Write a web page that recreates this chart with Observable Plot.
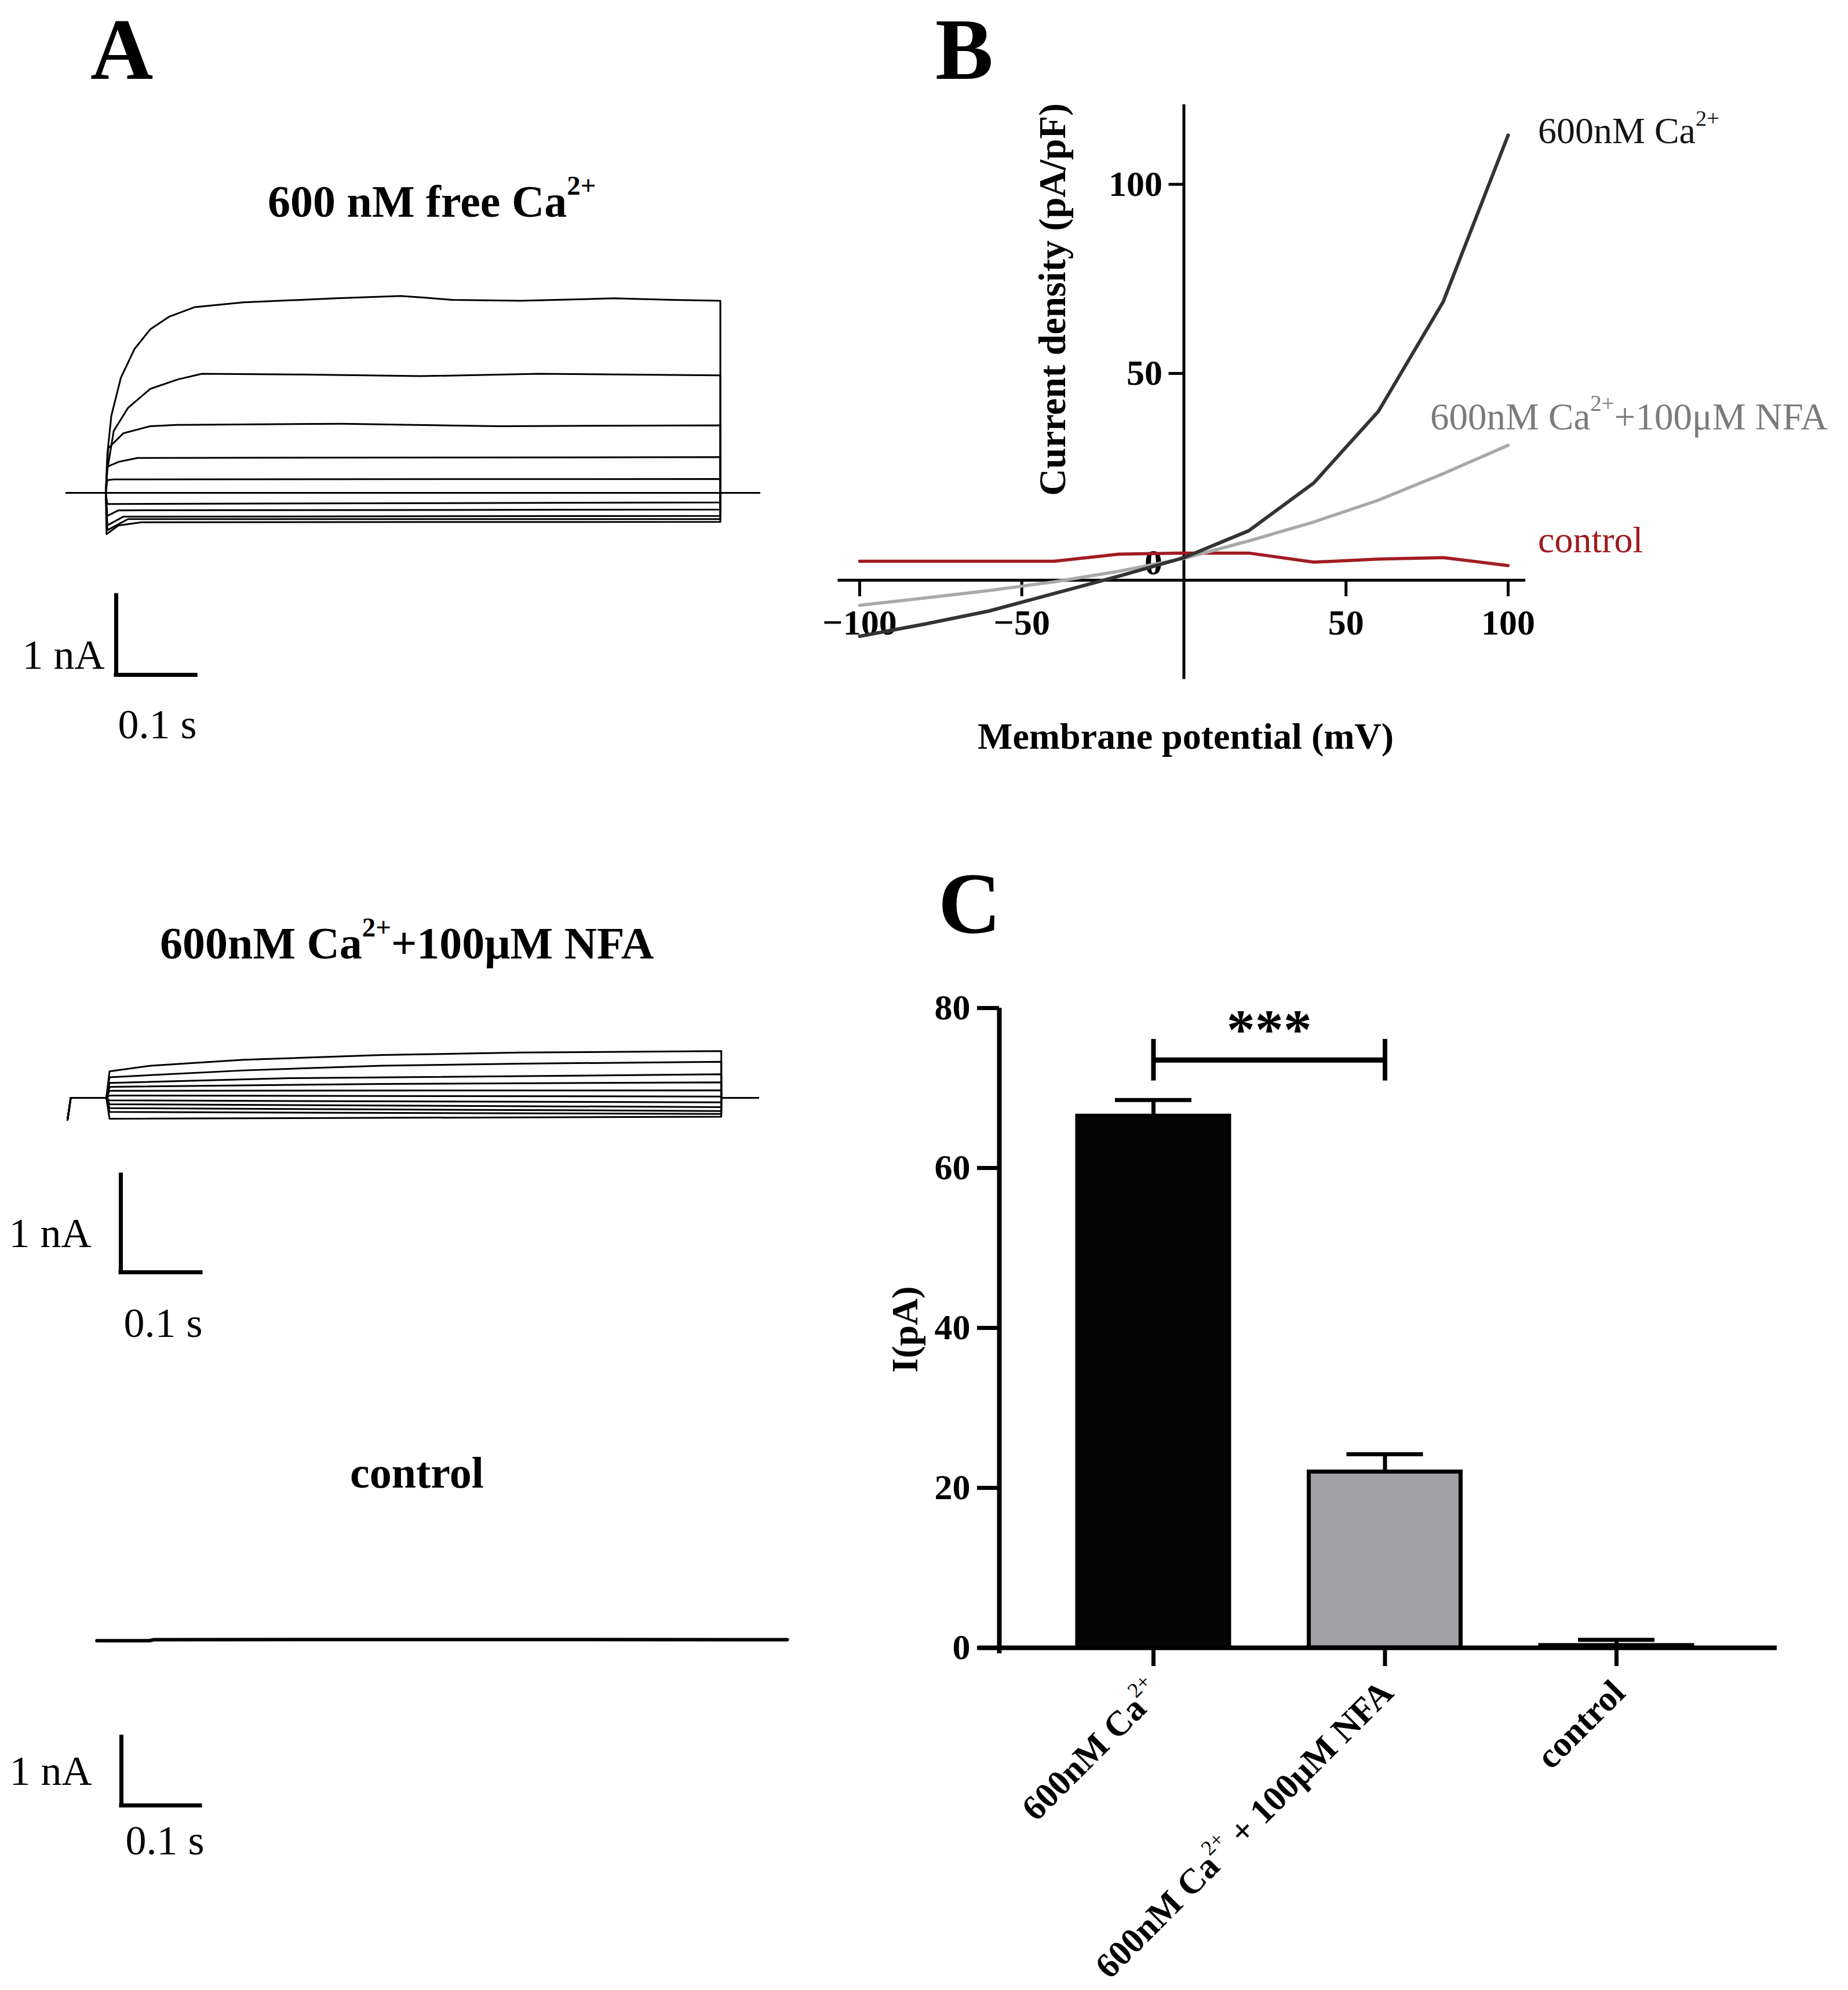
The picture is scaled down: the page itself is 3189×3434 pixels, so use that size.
<!DOCTYPE html>
<html>
<head>
<meta charset="utf-8">
<script src="https://cdn.jsdelivr.net/npm/d3@7"></script>
<script src="https://cdn.jsdelivr.net/npm/@observablehq/plot@0.6"></script>
<style>
  html, body { margin: 0; padding: 0; background: #fff; overflow: hidden; }
  #page { position: relative; width: 3189px; height: 3434px; background: #fff; overflow: hidden;
          font-family: "Liberation Serif", "Times New Roman", serif; color: #000; }
  #page svg { position: absolute; left: 0; top: 0; }
  .lbl { position: absolute; white-space: nowrap; line-height: 1; }
  .sup { font-size: 0.6em; position: relative; top: -0.8em; }
  .supn { font-size: 0.6em; position: relative; top: -0.8em; font-weight: normal; }
</style>
</head>
<body>
<div id="page"></div>
<script>
const W = 3189, H = 3434;
const FONT = '"Liberation Serif", "Times New Roman", serif';

// ================= DATA =================
// Panel A — current traces: [time (s) from pulse onset, current (nA)]
const caTraces = [
  [[0,0],[0.002,0.49],[0.007,0.97],[0.019,1.45],[0.036,1.81],[0.056,2.06],[0.080,2.22],[0.112,2.34],[0.173,2.40],[0.289,2.45],[0.371,2.48],[0.40,2.46],[0.436,2.43],[0.522,2.42],[0.639,2.45],[0.713,2.43],[0.773,2.42]],
  [[0,0],[0.002,0.29],[0.010,0.78],[0.028,1.07],[0.056,1.31],[0.091,1.43],[0.121,1.50],[0.247,1.49],[0.396,1.47],[0.545,1.50],[0.773,1.48]],
  [[0,0],[0.003,0.56],[0.022,0.75],[0.056,0.84],[0.089,0.856],[0.297,0.87],[0.495,0.84],[0.773,0.85]],
  [[0,0],[0.002,0.33],[0.016,0.39],[0.04,0.44],[0.773,0.45]],
  [[0,0],[0.002,0.16],[0.01,0.17],[0.773,0.175]],
  [[0,0],[0.773,0]],
  [[0,0],[0.002,-0.14],[0.773,-0.12]],
  [[0,0],[0.002,-0.29],[0.016,-0.22],[0.773,-0.21]],
  [[0,0],[0.002,-0.41],[0.022,-0.30],[0.773,-0.29]],
  [[0,0],[0.002,-0.47],[0.028,-0.33],[0.773,-0.33]],
  [[0,0],[0.001,-0.52],[0.016,-0.41],[0.045,-0.37],[0.773,-0.365]]
];
const caProtocol = {tStart: -0.0496, tEnd: 0.822};

const nfaTraces = [
  [[0,0],[0.004,0.272],[0.056,0.331],[0.172,0.391],[0.345,0.440],[0.518,0.466],[0.769,0.480]],
  [[0,0],[0.004,0.212],[0.172,0.282],[0.345,0.331],[0.518,0.351],[0.769,0.371]],
  [[0,0],[0.004,0.153],[0.229,0.202],[0.769,0.242]],
  [[0,0],[0.004,0.113],[0.345,0.143],[0.769,0.159]],
  [[0,0],[0.004,0.073],[0.769,0.077]],
  [[0,0],[0.004,0.024],[0.769,0.014]],
  [[0,0],[0.004,-0.026],[0.769,-0.046]],
  [[0,0],[0.004,-0.065],[0.769,-0.095]],
  [[0,0],[0.004,-0.105],[0.769,-0.135]],
  [[0,0],[0.004,-0.145],[0.769,-0.165]],
  [[0,0],[0.004,-0.214],[0.769,-0.194]]
];
const nfaProtocol = {tStart: -0.0485, tEnd: 0.815};
const nfaLeadIn = [[-0.0485,-0.224],[-0.0445,0]];

const controlTrace = [[-0.012,-0.015],[0.055,-0.015],[0.06,0],[0.5,0.003],[0.864,0]];

const SCALE_NA = 1;    // scale bar: 1 nA
const SCALE_S = 0.1;   // scale bar: 0.1 s

// Panel B — I–V curves
const bVoltage = [-100,-80,-60,-40,-20,0,20,40,60,80,100];
const bCa      = [-19.5,-16.3,-12.8,-8.2,-3.6,1.3,8.4,21,40,69,113];
const bNfa     = [-11.3,-9.4,-7.4,-5.1,-2.3,1.1,5.7,10.7,16.5,23.5,31];
const bControl = [0.35,0.35,0.35,0.35,2.2,2.5,2.5,0.1,0.9,1.3,-0.8];
const bXTicks = [-100,-50,50,100];
const bYTicks = [50,100];
const bYLabels = [0,50,100];

// Panel C — bar chart
const cCategories = ["600nM Ca2+", "600nM Ca2+ + 100μM NFA", "control"];
const cMeans = [66.5, 22.0, 0.3];
const cSem   = [2.0, 2.2, 0.7];
const cYTicks = [0,20,40,60,80];
const cSignif = {from: 0, to: 1, label: "***"};
const cSignifLevel = 73.5;

// ================= STYLE / LAYOUT =================
const cFills = ["#050505", "#a1a0a5", "#ffffff"];

function framePlot(xDomain, xRange, yDomain, yRange, marks, extra = {}) {
  return Plot.plot({
    width: W, height: H,
    marginLeft: xRange[0], marginRight: W - xRange[1],
    marginTop: yRange[0], marginBottom: H - yRange[1],
    x: {domain: xDomain, axis: null},
    y: {domain: yDomain, axis: null},
    style: {background: "transparent", overflow: "visible", fontFamily: FONT, color: "#000"},
    marks,
    ...extra
  });
}

function traceRows(traces, proto, leadIn) {
  return traces.flatMap((pts, k) => {
    let seq = pts;
    if (proto) {
      const last = pts[pts.length - 1];
      seq = [...(leadIn || [[proto.tStart, 0]]), ...pts, [last[0], 0], [proto.tEnd, 0]];
    }
    return seq.map(([t, I]) => ({k, t, I}));
  });
}

function tracePanel(traces, proto, leadIn, cfg) {
  const xDomain = [-0.12, 0.9];
  const xRange = xDomain.map(t => cfg.x0 + t * cfg.kx);
  const yRange = [cfg.y0 - cfg.yDomain[1] * cfg.ky, cfg.y0 - cfg.yDomain[0] * cfg.ky];
  const rows = traceRows(traces, proto, leadIn);
  const sb = [{t: (cfg.bar.x - cfg.x0) / cfg.kx, I: (cfg.y0 - cfg.bar.y) / cfg.ky}];
  return framePlot(xDomain, xRange, cfg.yDomain, yRange, [
    Plot.line(rows, {x: "t", y: "I", z: "k", stroke: "#000", strokeWidth: cfg.sw, strokeLinejoin: "round"}),
    Plot.ruleX(sb, {x: "t", y1: "I", y2: d => d.I + SCALE_NA, stroke: "#000", strokeWidth: 7, strokeLinecap: "square"}),
    Plot.ruleY(sb, {y: "I", x1: "t", x2: d => d.t + SCALE_S, stroke: "#000", strokeWidth: 7, strokeLinecap: "square"}),
    Plot.text(sb, {x: "t", y: "I", text: () => "1 nA", textAnchor: "end", dx: cfg.bar.ldx, dy: cfg.bar.ldy,
                   fontSize: 72, fontFamily: FONT, fill: "#000"}),
    Plot.text(sb, {x: "t", y: "I", text: () => "0.1 s", textAnchor: "start", dx: cfg.bar.sdx, dy: cfg.bar.sdy,
                   fontSize: 72, fontFamily: FONT, fill: "#000"})
  ]);
}

const page = document.getElementById("page");
function add(svg) { page.appendChild(svg); }

// ---- Panel A
add(tracePanel(caTraces, caProtocol, null,
  {x0: 182, kx: 1372, y0: 850, ky: 137, yDomain: [-2.6, 3], sw: 3,
   bar: {x: 200, y: 1164, ldx: -20, ldy: -34, sdx: 3, sdy: 86}}));
add(tracePanel(nfaTraces, nfaProtocol, nfaLeadIn,
  {x0: 183, kx: 1380, y0: 1894, ky: 168, yDomain: [-2, 1], sw: 3,
   bar: {x: 208, y: 2195, ldx: -51, ldy: -67, sdx: 5, sdy: 88}}));
add(tracePanel([controlTrace], null, null,
  {x0: 183, kx: 1360, y0: 2829, ky: 118, yDomain: [-2.6, 1], sw: 6,
   bar: {x: 209, y: 3115, ldx: -51, ldy: -59, sdx: 7, sdy: 61}}));

// ---- Panel B
{
  const xRange = [1483, 2602], yRange = [317.6, 970.2];
  const pxX = (xRange[1] - xRange[0]) / 200, pxY = (yRange[1] - yRange[0]) / 100;
  const xAxisAt = -4.7;
  const fmt = d => d < 0 ? "\u2212" + Math.abs(d) : String(d);
  const series = (vals) => bVoltage.map((v, i) => ({v, y: vals[i]}));
  add(framePlot([-100, 100], xRange, [0, 100], yRange, [
    Plot.ruleX([0], {y1: -30.9, y2: 121.1, stroke: "#000", strokeWidth: 5}),
    Plot.ruleY([xAxisAt], {x1: -106.7, x2: 105.4, stroke: "#000", strokeWidth: 5}),
    Plot.ruleY(bYTicks, {y: d => d, x1: -26 / pxX, x2: 0, stroke: "#000", strokeWidth: 5}),
    Plot.ruleX(bXTicks, {x: d => d, y1: xAxisAt, y2: xAxisAt - 28 / pxY, stroke: "#000", strokeWidth: 5}),
    Plot.text(bYLabels, {x: 0, y: d => d, text: fmt, textAnchor: "end", dx: -37, fontSize: 62, fontWeight: "bold", fontFamily: FONT, fill: "#000"}),
    Plot.text(bXTicks, {x: d => d, y: xAxisAt, text: fmt, dy: 74, fontSize: 62, fontWeight: "bold", fontFamily: FONT, fill: "#000"}),
    Plot.line(series(bControl), {x: "v", y: "y", stroke: "#a21c22", strokeWidth: 5.5}),
    Plot.line(series(bNfa), {x: "v", y: "y", stroke: "#a9a9a9", strokeWidth: 5.5}),
    Plot.line(series(bCa), {x: "v", y: "y", stroke: "#333333", strokeWidth: 6})
  ]));
}

// ---- Panel C
let cXpx;
{
  const xDomain = [-0.6658, 2.6934], xRange = [1724, 3066];
  const yRange = [1739, 2843];
  const pxX = (xRange[1] - xRange[0]) / (xDomain[1] - xDomain[0]);
  const pxY = (yRange[1] - yRange[0]) / 80;
  cXpx = i => xRange[0] + (i - xDomain[0]) * pxX;
  const rows = cCategories.map((c, i) => ({i, c, mean: cMeans[i], sem: cSem[i], fill: cFills[i]}));
  const hw = 131 / pxX, cap = 66 / pxX;
  const x0 = xDomain[0];
  const sig = [{...cSignif, y: cSignifLevel}];
  add(framePlot(xDomain, xRange, [0, 80], yRange, [
    Plot.rectY(rows, {x1: d => d.i - hw, x2: d => d.i + hw, y1: 0, y2: "mean", fill: "fill", stroke: "#000", strokeWidth: 7}),
    Plot.ruleX(rows, {x: "i", y1: "mean", y2: d => d.mean + d.sem, stroke: "#000", strokeWidth: 7}),
    Plot.ruleY(rows, {y: d => d.mean + d.sem, x1: d => d.i - cap, x2: d => d.i + cap, stroke: "#000", strokeWidth: 7}),
    Plot.ruleX([x0], {y1: -10 / pxY, y2: 80, stroke: "#000", strokeWidth: 8}),
    Plot.ruleY([0], {x1: x0 - 36 / pxX, x2: xDomain[1], stroke: "#000", strokeWidth: 8}),
    Plot.ruleY(cYTicks, {y: d => d, x1: x0 - 38 / pxX, x2: x0, stroke: "#000", strokeWidth: 7}),
    Plot.text(cYTicks, {x: x0, y: d => d, text: d => String(d), textAnchor: "end", dx: -50, fontSize: 62, fontWeight: "bold", fontFamily: FONT, fill: "#000"}),
    Plot.ruleX(rows, {x: "i", y1: 0, y2: -32 / pxY, stroke: "#000", strokeWidth: 7}),
    Plot.ruleY(sig, {y: "y", x1: "from", x2: "to", stroke: "#000", strokeWidth: 9}),
    Plot.ruleX(sig.flatMap(s => [{x: s.from, y: s.y}, {x: s.to, y: s.y}]), {x: "x", y1: d => d.y - 2.6, y2: d => d.y + 2.6, stroke: "#000", strokeWidth: 8}),
    Plot.text(sig, {x: d => (d.from + d.to) / 2, y: "y", text: "label", dy: -52, fontSize: 98, fontWeight: "bold", fontFamily: FONT, fill: "#000"})
  ], {color: {type: "identity"}}));
}

// ================= HTML TEXT (labels with superscripts) =================
const sup = s => `<span class="sup">${s}</span>`;
const supn = s => `<span class="supn">${s}</span>`;
function label(html, o) {
  const d = document.createElement("div");
  d.className = "lbl";
  d.innerHTML = html;
  d.style.fontSize = o.size + "px";
  d.style.fontWeight = o.weight || "normal";
  d.style.color = o.color || "#000";
  if (o.rotate != null && o.cx != null) {
    d.style.left = o.cx + "px"; d.style.top = o.cy + "px";
    d.style.transform = `translate(-50%, -50%) rotate(${o.rotate}deg)`;
  } else if (o.endRotate != null) {
    d.style.left = o.x + "px"; d.style.top = o.y + "px";
    d.style.transformOrigin = "0 0";
    d.style.transform = `rotate(${o.endRotate}deg) translate(-100%, -50%)`;
  } else {
    d.style.left = o.x + "px";
    d.style.top = (o.y - 0.8375 * o.size) + "px";
    if (o.anchor === "middle") d.style.transform = "translateX(-50%)";
    if (o.anchor === "end") d.style.transform = "translateX(-100%)";
  }
  page.appendChild(d);
}

label("A", {x: 156, y: 136, size: 150, weight: "bold"});
label("B", {x: 1614, y: 136, size: 150, weight: "bold"});
label("C", {x: 1619, y: 1610, size: 150, weight: "bold"});

label(`600 nM free Ca${sup("2+")}`, {x: 462, y: 374, size: 78, weight: "bold"});
label(`600nM Ca${sup("2+")}+100μM NFA`, {x: 276, y: 1654, size: 78, weight: "bold"});
label("control", {x: 604, y: 2567, size: 76, weight: "bold"});

label(`600nM Ca${sup("2+")}`, {x: 2654, y: 248, size: 64, color: "#151515"});
label(`600nM Ca${sup("2+")}+100μM NFA`, {x: 2468, y: 741, size: 65, color: "#7b7b7b"});
label("control", {x: 2654, y: 954, size: 64, color: "#9e1a20"});
label("Membrane potential (mV)", {x: 2046, y: 1293, size: 64, weight: "bold", anchor: "middle"});
label("Current density (pA/pF)", {cx: 1816, cy: 517, size: 65, weight: "bold", rotate: -90});

label("I(pA)", {cx: 1562, cy: 2294, size: 64, weight: "bold", rotate: -90});
const cLabelHtml = [`600nM Ca${supn("2+")}`, `600nM Ca${supn("2+")} + 100μM NFA`, "control"];
cLabelHtml.forEach((h, i) => label(h, {x: cXpx(i) + 4, y: 2910, size: 61, weight: "bold", endRotate: -45}));
</script>
</body>
</html>
